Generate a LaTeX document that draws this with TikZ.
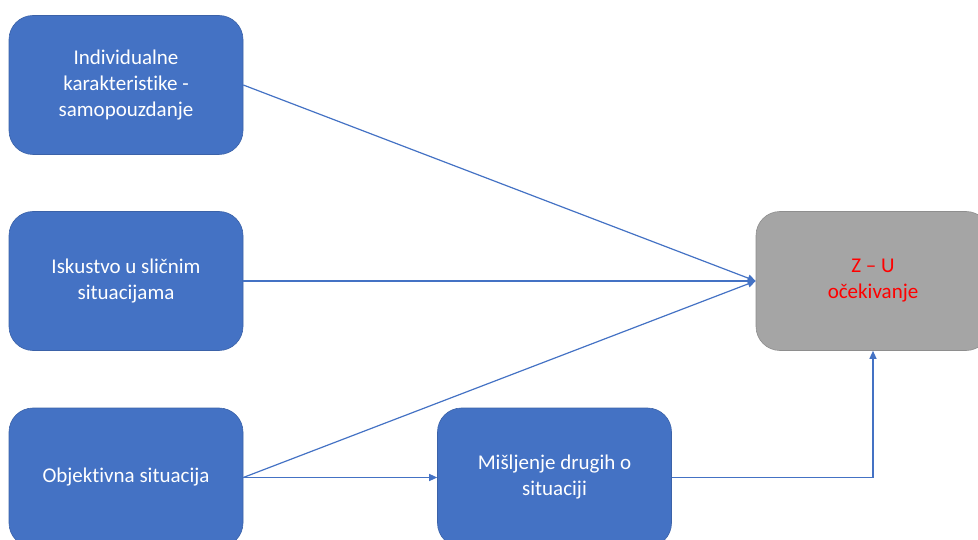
\documentclass[tikz,border=0pt]{standalone}
\usepackage{fontspec}
\setmainfont{Carlito}[Ligatures=CommonOff]
\usetikzlibrary{calc, shapes, arrows.meta}
\definecolor{boxblue}{HTML}{4472C4}
\definecolor{boxline}{HTML}{3B62A8}
\definecolor{boxgray}{HTML}{A5A5A5}
\definecolor{grayline}{HTML}{8E8E8E}
\definecolor{textred}{HTML}{FF0000}

\begin{document}
\begin{tikzpicture}[x=1pt,y=-1pt,
	box/.style={rounded corners=24pt, fill=boxblue, draw=boxline, line width=0.6pt,
		minimum width=234pt, minimum height=139pt, inner sep=0pt,
		align=center, text=white, font=\fontsize{21}{26}\selectfont},
	goalbox/.style={box, fill=boxgray, draw=grayline, text=textred},
	link/.style={draw=boxblue, line width=1.2pt, -{Triangle[length=8pt,width=7pt]}}]
	\useasboundingbox (0,0) rectangle (978,540);
	\clip (0,0) rectangle (978,540);
	%Boxes on the left
	\coordinate (c1) at (126,85);
	\coordinate (c2) at (126,281);
	\coordinate (c3) at (126,477.5);
	\node [box] (indiv) at (c1) {Individualne\\karakteristike -\\samopouzdanje};
	\node [box] (iskus) at (c2) {Iskustvo u sličnim\\situacijama};
	\node [box] (objek) at (c3) {Objektivna situacija};
	%Box at the bottom middle
	\coordinate (c4) at (554.5,477.5);
	\node [box] (misl) at (c4) {Mišljenje drugih o\\situaciji};
	%Goal box on the right
	\coordinate (c5) at (873,281);
	\node [goalbox] (ocek) at (c5) {Z – U\\očekivanje};
	%Connectors
	\draw [link] (indiv.east) -- (ocek.west);
	\draw [link] (iskus.east) -- (ocek.west);
	\draw [link] (objek.east) -- (ocek.west);
	\draw [link] (objek.east) -- (misl.west);
	\draw [link] (misl.east) -| (ocek.south);
\end{tikzpicture}
\end{document}
